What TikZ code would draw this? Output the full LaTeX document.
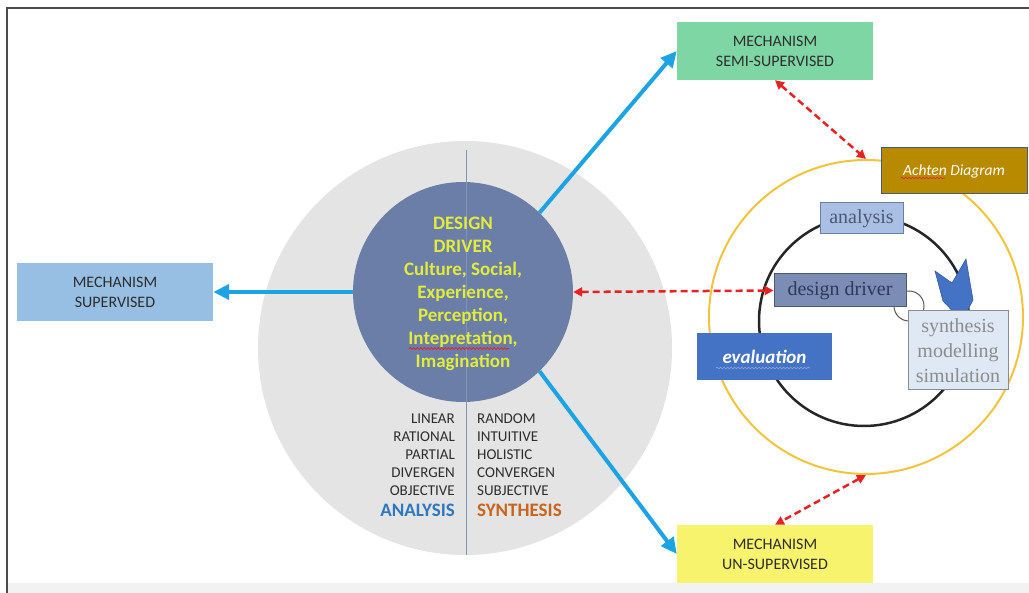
\documentclass[tikz,border=0pt]{standalone}
\usepackage{fontspec}
\usetikzlibrary{arrows.meta,decorations.pathmorphing}
\newfontfamily\calib{Carlito}
\newfontfamily\tms{Liberation Serif}
\definecolor{cgray}{HTML}{E4E4E4}
\definecolor{cdark}{HTML}{6B7EA8}
\definecolor{cyel}{HTML}{E2EC3A}
\definecolor{cvline}{HTML}{7F95B8}
\definecolor{cblue}{HTML}{1BA3E4}
\definecolor{cred}{HTML}{E62222}
\definecolor{csup}{HTML}{97BFE3}
\definecolor{csemi}{HTML}{7ED6A4}
\definecolor{cunsup}{HTML}{F7F36C}
\definecolor{cachten}{HTML}{B88A00}
\definecolor{cring}{HTML}{F0C43C}
\definecolor{canal}{HTML}{A9BFE3}
\definecolor{cdd}{HTML}{7B8DB5}
\definecolor{csyn}{HTML}{DFE9F5}
\definecolor{ceval}{HTML}{4472C4}
\definecolor{ctxt}{HTML}{2E2E2E}
\definecolor{canblue}{HTML}{2E78C0}
\definecolor{csyorange}{HTML}{C8641E}
\definecolor{cnavy}{HTML}{2D3A5A}
\tikzset{
  mech/.style={minimum width=196pt, minimum height=58pt, inner sep=0pt, align=center,
    font=\calib\fontsize{16}{20}\selectfont, text=ctxt},
  blarrow/.style={cblue, line width=4pt, -{Triangle[length=16pt,width=15pt]}},
  rdarrow/.style={cred, line width=2.5pt, dash pattern=on 7pt off 4pt,
    {Triangle[length=9pt,width=9pt]}-{Triangle[length=9pt,width=9pt]}},
  coltext/.style={font=\calib\fontsize{15}{18}\selectfont, text=ctxt, inner sep=0pt},
  drvtext/.style={font=\calib\bfseries\fontsize{19}{23}\selectfont, text=cyel, inner sep=0pt, anchor=base},
  sertext/.style={font=\tms\fontsize{20}{25}\selectfont},
  squig/.style={decorate, decoration={snake, amplitude=0.9pt, segment length=3.5pt}, line width=0.8pt}
}
\begin{document}
\begin{tikzpicture}[x=1pt,y=-1pt]
\useasboundingbox (0,0) rectangle (1029,593);
\fill[white] (0,0) rectangle (1029,593);
\fill[black!5] (8,583) rectangle (1029,593);
\draw[black!70, line width=1.5pt] (7,593) -- (7,8) -- (1029,8);

% central circles
\node[circle, fill=cgray, minimum size=414pt, inner sep=0pt] (outer) at (465,348) {};
\node[circle, fill=cdark, minimum size=220pt, inner sep=0pt] (driver) at (463,292) {};
\draw[cvline, line width=1pt] (466,150) -- (466,555);

\node[drvtext] (t1) at (463,230) {DESIGN};
\node[drvtext] (t2) at (463,253) {DRIVER};
\node[drvtext] (t3) at (463,276) {Culture, Social,};
\node[drvtext] (t4) at (463,299) {Experience,};
\node[drvtext] (t5) at (463,322) {Perception,};
\node[drvtext] (t6) at (463,345) {Intepretation,};
\node[drvtext] (t7) at (463,368) {Imagination};
\draw[cred, squig] (t6.base west) ++(1,3.5) -- ++(100,0);

% columns
\foreach \w/\b [count=\i] in {LINEAR/424, RATIONAL/442, PARTIAL/460, DIVERGEN/478, OBJECTIVE/496}
  \node[coltext, anchor=base east] (l\i) at (455,\b) {\w};
\foreach \w/\b [count=\i] in {RANDOM/424, INTUITIVE/442, HOLISTIC/460, CONVERGEN/478, SUBJECTIVE/496}
  \node[coltext, anchor=base west] (r\i) at (477,\b) {\w};
\node[anchor=base east, inner sep=0pt, text=canblue, font=\calib\bfseries\fontsize{19}{23}\selectfont] (an) at (455,517) {ANALYSIS};
\node[anchor=base west, inner sep=0pt, text=csyorange, font=\calib\bfseries\fontsize{19}{23}\selectfont] (sy) at (477,517) {SYNTHESIS};

% mechanism boxes
\node[mech, fill=csup] (sup) at (115,292) {MECHANISM\\SUPERVISED};
\node[mech, fill=csemi] (semi) at (775,51) {MECHANISM\\SEMI-SUPERVISED};
\node[mech, fill=cunsup] (unsup) at (775,554) {MECHANISM\\UN-SUPERVISED};

% Achten diagram
\node[circle, draw=cring, line width=2pt, minimum size=314pt, inner sep=0pt] (ring) at (866,317) {};
\node[circle, draw=black!85, line width=2.5pt, minimum size=210pt, inner sep=0pt] (cycle) at (864,321) {};
\draw[black!65, line width=1pt] (909,306) circle (15pt);
\filldraw[fill=ceval, draw=ceval!80!black, line width=0.6pt]
  (935,271) -- (952,283) -- (966,259) -- (973,300) -- (962,321) -- (943,301) -- cycle;
\node[draw=cdark!70!black, line width=1pt, fill=cachten, minimum width=146pt, minimum height=46pt,
  inner sep=0pt, text=white, font=\calib\itshape\fontsize{15.5}{18}\selectfont] (achten) at (954,171) {Achten Diagram};
\draw[cred, squig, line width=0.6pt] (901,178) -- (945,178);
\node[draw=cdark, line width=1pt, fill=canal, minimum width=83pt, minimum height=31pt, inner sep=0pt,
  sertext, text=cnavy!85] (anal) at (861.5,218.5) {analysis};
\node[draw=cdark!70!black, line width=1pt, fill=cdd, minimum width=132pt, minimum height=33pt, inner sep=0pt,
  sertext, text=cnavy] (dd) at (840,290.5) {design driver};
\node[draw=black!45, line width=1pt, fill=csyn, minimum width=100pt, minimum height=79pt, inner sep=0pt,
  sertext, text=black!45, align=center] (syn) at (958,350.5) {synthesis\\modelling\\simulation};
\node[fill=ceval, minimum width=135pt, minimum height=47pt, inner sep=0pt, text=white,
  font=\calib\bfseries\itshape\fontsize{19}{23}\selectfont] (eval) at (764.5,356.5) {evaluation};
\draw[ceval!60!white, squig, line width=0.6pt] (716,368) -- (810,368);

% arrows
\draw[blarrow] (driver.west) -- (sup.east);
\draw[blarrow] (driver.46) -- (semi.west);
\draw[blarrow] (driver.-46) -- (unsup.west);
\draw[rdarrow] (driver.east) -- (dd.west);
\draw[rdarrow] (semi.south) -- (ring.north);
\draw[rdarrow] (ring.south) -- (unsup.north);
\end{tikzpicture}
\end{document}
